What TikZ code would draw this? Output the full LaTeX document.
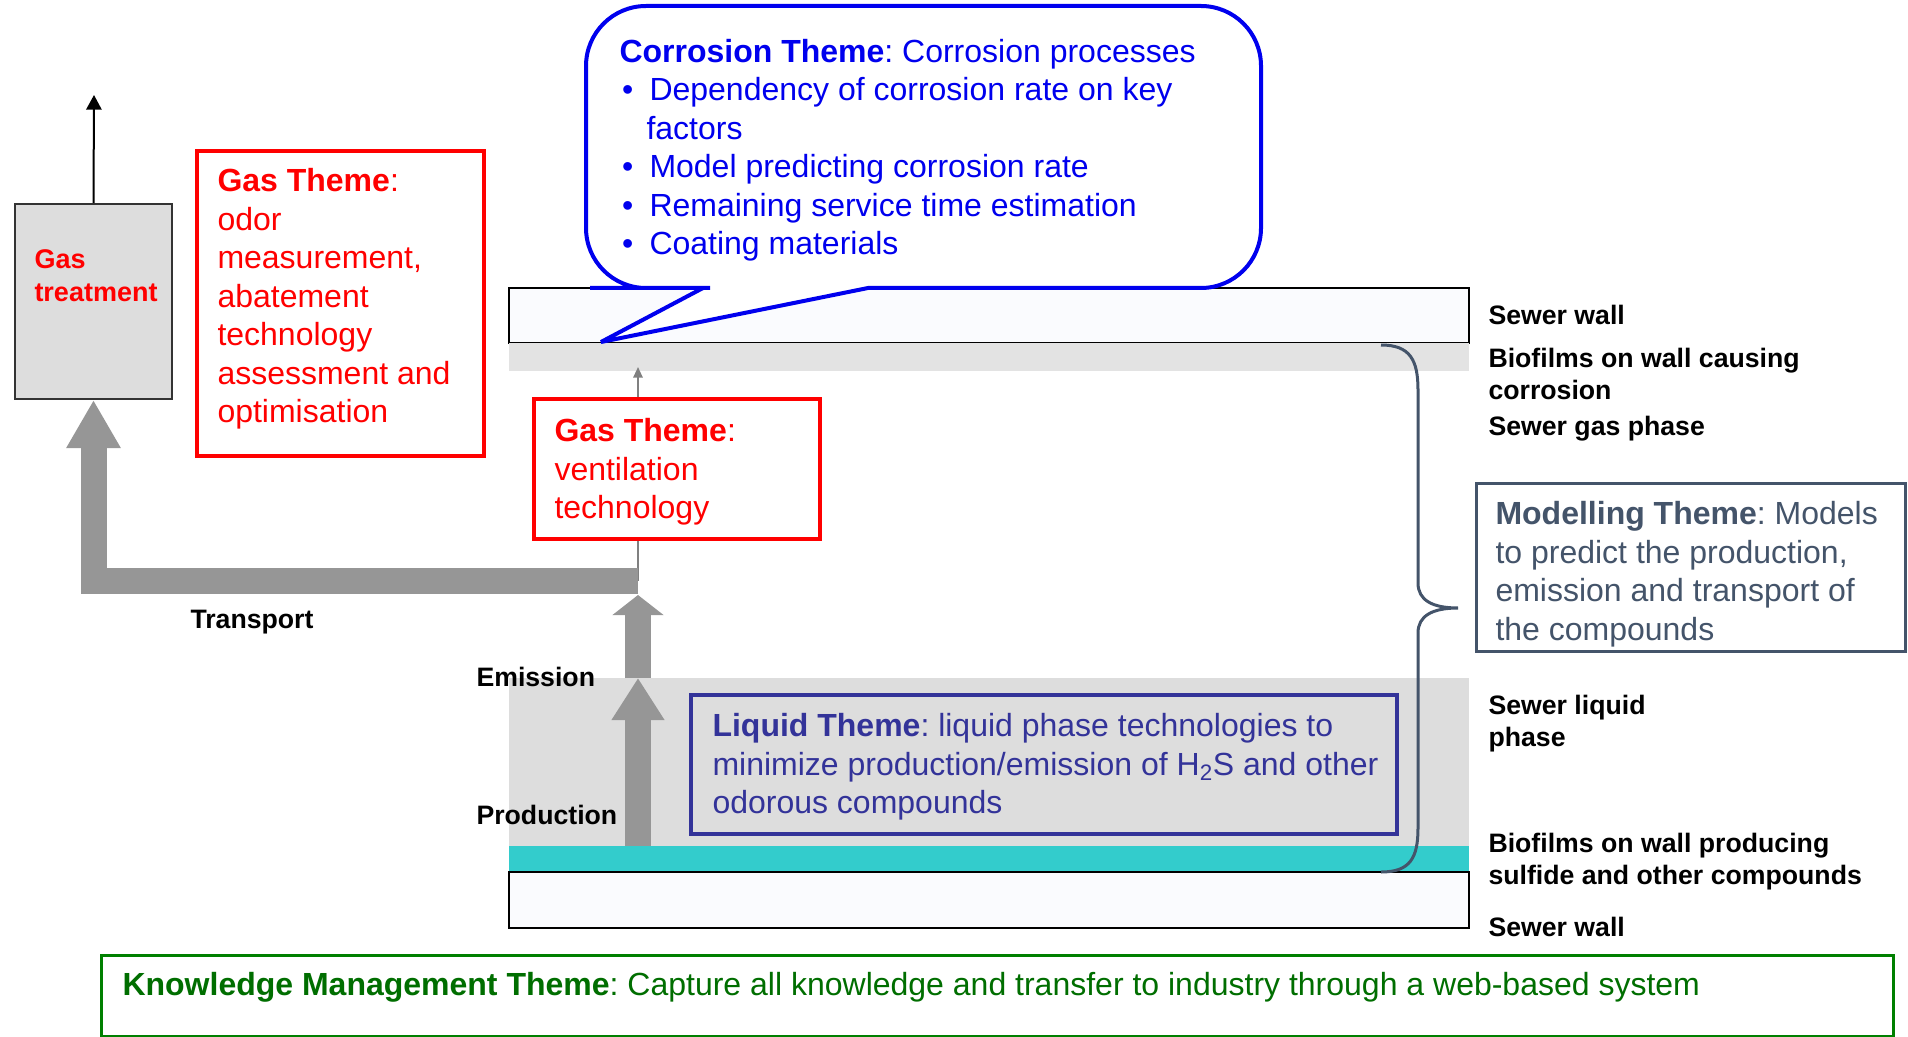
\documentclass[tikz,border=0pt]{standalone}
\usepackage{fontspec}
\setmainfont{Liberation Sans}
\frenchspacing
\usetikzlibrary{arrows.meta,fit}

\definecolor{gasred}{RGB}{255,0,0}
\definecolor{corrblue}{RGB}{0,0,238}
\definecolor{liqblue}{RGB}{51,51,153}
\definecolor{modslate}{RGB}{68,84,106}
\definecolor{kmgreen}{RGB}{0,128,0}
\definecolor{kmtext}{RGB}{0,110,0}
\definecolor{flowgray}{RGB}{150,150,150}
\definecolor{thingray}{RGB}{128,128,128}
\definecolor{liqgray}{RGB}{221,221,221}
\definecolor{filmgray}{RGB}{227,227,227}
\definecolor{filmcyan}{RGB}{51,204,204}
\definecolor{wallfill}{RGB}{250,251,254}
\definecolor{treatgray}{RGB}{221,221,221}

\tikzset{every picture/.style={line width=0.75pt}}
\tikzset{
	theme box/.style={draw, line width=3pt, fill=white, inner sep=0pt},
	theme text/.style={anchor=north west, align=left, inner sep=0pt, font=\fontsize{24}{28.9}\selectfont},
	side label/.style={anchor=north west, align=left, inner sep=0pt, font=\fontsize{20}{23.7}\selectfont\bfseries},
	flow/.style={draw=flowgray, line width=19.5pt}}

\begin{document}
\begin{tikzpicture}[x=0.75pt,y=0.75pt,yscale=-1,xscale=1]
	\useasboundingbox (0,0) rectangle (1908,1037);

	%Shape: Rectangle (upper sewer wall and biofilm)
	\draw [fill=wallfill, line width=1.1pt] (509,288) rectangle (1469,343) ;
	\fill [filmgray] (509,343) rectangle (1469,371) ;
	%Shape: Rectangle (liquid, biofilm, lower sewer wall)
	\fill [liqgray] (509,678) rectangle (1469,846) ;
	\fill [filmcyan] (509,846) rectangle (1469,872) ;
	\draw [fill=wallfill, line width=1.1pt] (509,872) rectangle (1469,928) ;

	%Shape: Callout
	\draw [draw=corrblue, line width=3pt, fill=white, miter limit=3] (703,288) -- (601,342) -- (868,288) -- (1000,288) [rounded corners=45pt] -- (1261,288) -- (1261,6) -- (586,6) -- (586,288) -- (650,288) [sharp corners] -- cycle ;

	%Shape: Boxes
	\node [theme box, draw=black!80, line width=1.5pt, fill=treatgray, fit={(15,204) (172,399)}] (treat) {};
	\node [theme box, draw=gasred, fit={(197,151) (484,456)}] (odorbox) {};
	\node [theme box, draw=gasred, fit={(534,399) (820,539)}] (ventbox) {};
	\node [theme box, draw=liqblue, fill=none, fit={(691,695) (1397,834)}] (liqbox) {};
	\node [theme box, draw=modslate, line width=2.25pt, fit={(1476,483) (1905,651)}] (modbox) {};
	\node [theme box, draw=kmgreen, line width=2.25pt, fit={(101,955) (1893,1036)}] (kmbox) {};

	%Straight Lines
	\coordinate (exhaust) at (94,95);
	\coordinate (ventfoot) at (638,581);
	\coordinate (filmtip) at (638,367);
	\coordinate (barfoot) at (638,595);
	\coordinate (liqsurf) at (638,678);
	\coordinate (filmsurf) at (638,846);
	\draw [-{Triangle[length=11pt,width=11.5pt]}, line width=1.5pt] (treat.north) -- (exhaust) ;
	\draw [draw=thingray, line width=1.5pt, -{Triangle[length=8pt,width=7pt]}] (ventfoot |- ventbox.north) -- (filmtip) ;
	\draw [draw=thingray, line width=1.5pt] (ventfoot |- ventbox.south) -- (ventfoot) ;
	%Thick arrows: transport, emission, production
	\draw [flow, line join=miter, -{Triangle[length=36pt,width=38.25pt]}] (ventfoot) -| (treat.south) ;
	\draw [flow, -{Triangle[length=15pt,width=37.5pt]}] (liqsurf) -- (barfoot) ;
	\draw [flow, -{Triangle[length=31.5pt,width=37.5pt]}] (filmsurf) -- (liqsurf) ;

	%Curve Lines: brace
	\draw [draw=modslate, line width=2.25pt] (1381,345) .. controls (1410,345) and (1418,360) .. (1418,390) -- (1418,583) .. controls (1418,600) and (1432,608) .. (1458,608) .. controls (1432,608) and (1418,616) .. (1418,633) -- (1418,828) .. controls (1418,858) and (1410,872) .. (1381,872) ;

	% Text Node
	\node [theme text, text=corrblue] (corrtext) at (619,38.5) {\textbf{Corrosion Theme}: Corrosion processes\\
		\hspace*{2pt}\makebox[20.5pt][l]{\textbullet}Dependency of corrosion rate on key\\
		\hspace*{20.25pt}factors\\
		\hspace*{2pt}\makebox[20.5pt][l]{\textbullet}Model predicting corrosion rate\\
		\hspace*{2pt}\makebox[20.5pt][l]{\textbullet}Remaining service time estimation\\
		\hspace*{2pt}\makebox[20.5pt][l]{\textbullet}Coating materials};
	% Text Node
	\node [anchor=north west, align=left, inner sep=0pt, font=\fontsize{20.25}{24.6}\selectfont\bfseries, text=gasred] (treattext) at (34,249) {Gas\\treatment};
	% Text Node
	\node [theme text, text=gasred] (odortext) at (217,168) {\textbf{Gas Theme}:\\odor\\measurement,\\abatement\\technology\\assessment and\\optimisation};
	% Text Node
	\node [theme text, text=gasred] (venttext) at (554,418) {\textbf{Gas Theme}:\\ventilation\\technology};
	% Text Node
	\node [theme text, text=liqblue] (liqtext) at (712,713) {\textbf{Liquid Theme}: liquid phase technologies to\\minimize production/emission of H\textsubscript{2}S and other\\odorous compounds};
	% Text Node
	\node [theme text, text=modslate] (modtext) at (1495,501) {\textbf{Modelling Theme}: Models\\to predict the production,\\emission and transport of\\the compounds};
	% Text Node
	\node [anchor=base west, inner sep=0pt, font=\fontsize{24}{28.9}\selectfont, text=kmtext] (kmtext) at (122,995) {\textbf{Knowledge Management Theme}: Capture all knowledge and transfer to industry through a web-based system};

	% Text Node
	\node [side label, anchor=center] (transport) at (252,622) {Transport};
	% Text Node
	\node [side label, anchor=west] (emission) at (476,677) {Emission};
	% Text Node
	\node [side label, anchor=west] (production) at (476,815) {Production};

	% Text Node
	\node [side label] (topwall) at (1488,305) {Sewer wall};
	% Text Node
	\node [side label] (topfilm) at (1488,348) {Biofilms on wall causing\\corrosion};
	% Text Node
	\node [side label] (gasphase) at (1488,416) {Sewer gas phase};
	% Text Node
	\node [side label] (liqphase) at (1488,695) {Sewer liquid\\phase};
	% Text Node
	\node [side label] (lowfilm) at (1488,833) {Biofilms on wall producing\\sulfide and other compounds};
	% Text Node
	\node [side label] (lowwall) at (1488,917) {Sewer wall};

\end{tikzpicture}
\end{document}
